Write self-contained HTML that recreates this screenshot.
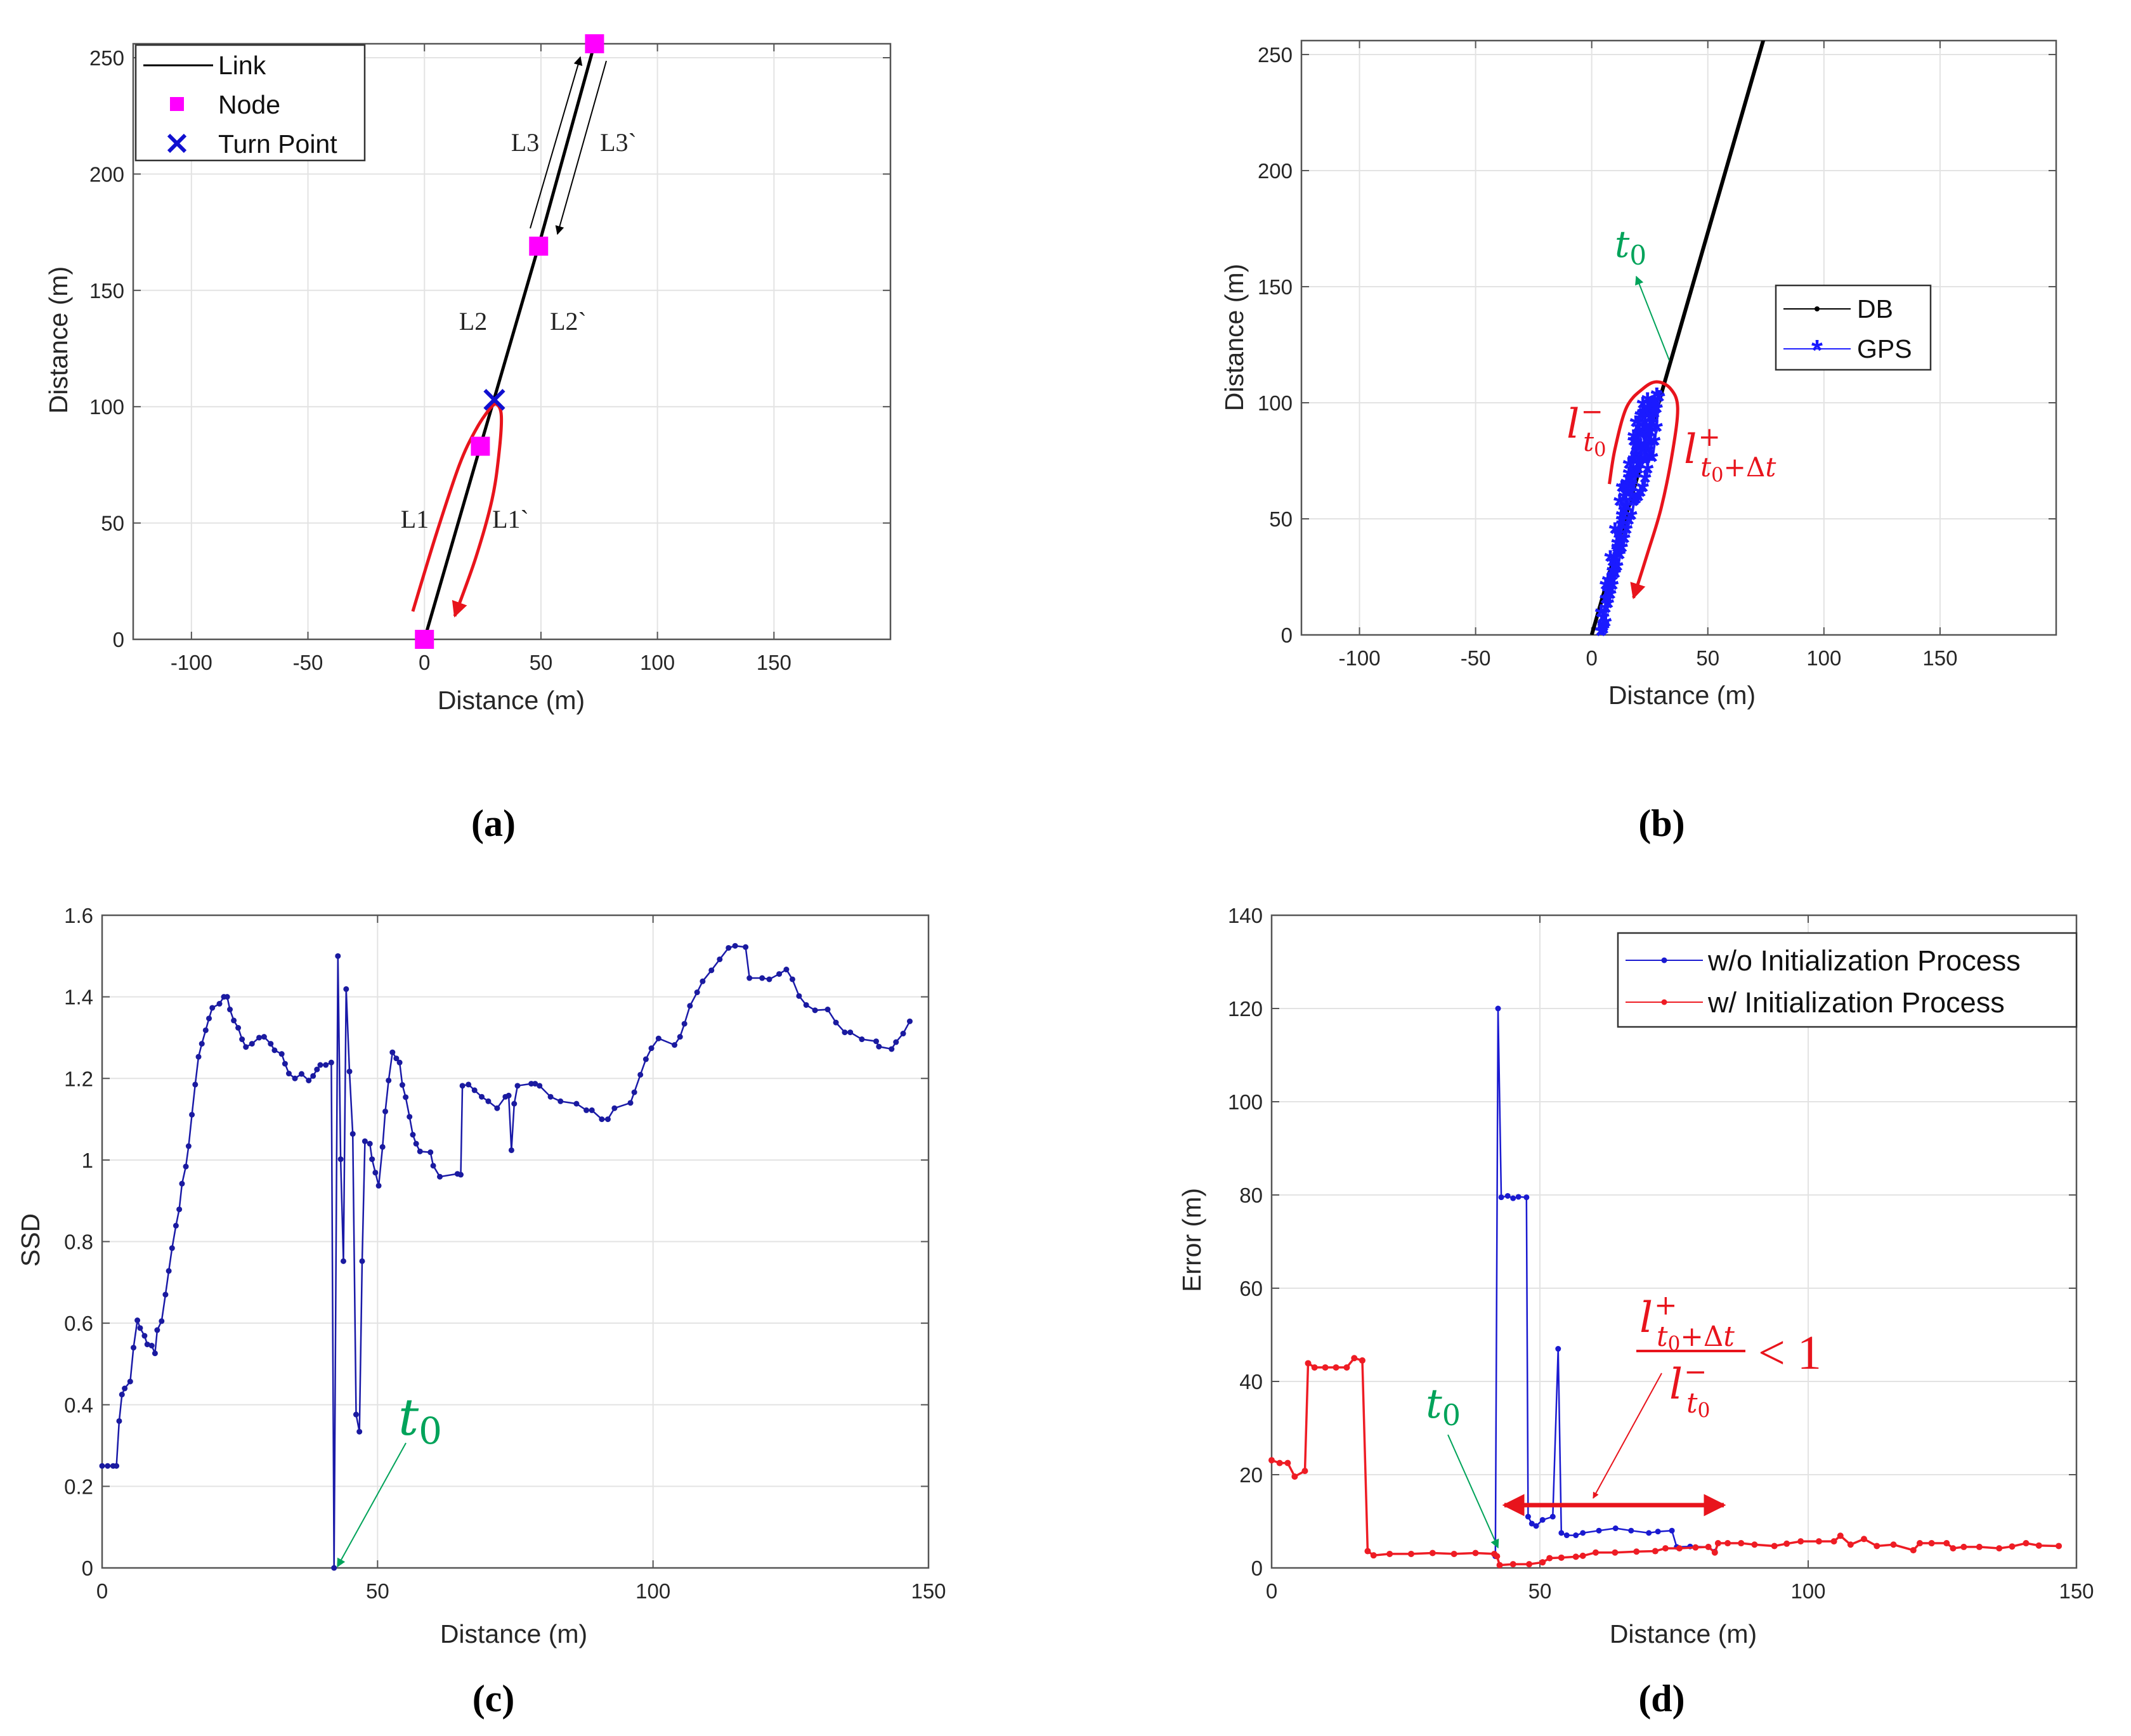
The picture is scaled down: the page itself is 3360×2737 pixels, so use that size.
<!DOCTYPE html>
<html><head><meta charset="utf-8">
<style>
html,body{margin:0;padding:0;background:#fff;}
svg{display:block;font-family:"Liberation Sans",sans-serif;}
.tk{font-size:33px;fill:#262626;}
.al{font-size:41px;fill:#262626;}
.pl{font-family:"Liberation Serif",serif;font-size:60px;font-weight:bold;fill:#000;}
.mi{font-family:"DejaVu Serif",serif;font-style:italic;}
</style></head>
<body>
<svg id="fig" width="3360" height="2737" viewBox="0 0 3360 2737" xmlns="http://www.w3.org/2000/svg">
<defs>
<marker id="ar" viewBox="0 0 10 10" refX="9" refY="5" markerWidth="5" markerHeight="5" orient="auto-start-reverse"><path d="M0,0L10,5L0,10z" fill="#e8141c"/></marker>
<marker id="ag" viewBox="0 0 10 10" refX="9" refY="5" markerWidth="7" markerHeight="7" orient="auto"><path d="M0,0L10,5L0,10z" fill="#00a35a"/></marker>
<marker id="ak" viewBox="0 0 10 10" refX="9" refY="5" markerWidth="7" markerHeight="7" orient="auto"><path d="M0,0L10,5L0,10z" fill="#000"/></marker>
</defs>
</svg>
<script>
// ---------- data ----------
const aNodesX=[0,24,49,73];
const aNodesY=[0,83,169,256];
const aTurnX=[30];
const aTurnY=[103];
const aUx=[-5,5,15,22,28,31,33,32,29,22,13];
const aUy=[12,45,75,90,99,101,96,80,60,35,10];

const bDbX=[0,75];
const bDbY=[0,260];
const bGpsX=[5,6,4,7,8,6,9,10,8,11,12,10,13,14,12,15,13,17,18,16,19,20,18,22,23,21,25,26,24,28,27,25,23,21,19,17,15,13,11,9,7,6,5,14,16,20,24,26,22,18,5,6,7,8,9,10,11,12,13,14,15,16,17,18,19,20,21,22,23,24,25,26,27,28,29,27,26,25,24,23,22,21,20,19,18,17,16,15,14,13,12,11,10,9,8,7,6,5,4,20,22,24,26,28,23,25,27,19,21];
const bGpsY=[1,4,8,12,16,20,24,28,32,36,40,44,48,52,56,60,62,64,68,72,76,80,84,86,90,93,95,98,100,102,96,88,80,74,68,60,54,46,38,30,22,14,6,62,66,70,78,92,98,82,3,10,17,20,26,32,35,42,50,58,64,68,63,74,80,72,85,78,88,84,92,90,99,96,101,82,75,86,70,66,62,60,58,57,56,50,48,44,40,36,33,28,25,20,18,14,10,2,0,88,94,96,92,88,74,82,94,90,80];
const bUx=[7.6,10,15,22,28,34,37,35,30,24,18];
const bUy=[65,80,98,106,109,106,98,80,55,35,16];

const cX=[0,1,2,2.6,3.1,3.6,4.1,5.1,5.7,6.4,6.9,7.7,8.2,9,9.6,10,10.8,11.5,12.1,12.7,13.4,14,14.5,15.2,15.7,16.3,16.9,17.5,18.1,18.8,19.4,20,21.3,22.1,22.7,23.2,23.9,24.7,25.4,26.1,27.2,28.5,29.4,30.6,31.3,32.6,33.2,33.9,35,36.2,37.5,38.3,39,39.6,40.6,41.6,42.1,42.8,43.3,43.8,44.3,44.9,45.5,46.1,46.7,47.2,47.7,48.6,49,49.6,50.2,50.9,51.4,52,52.7,53.4,54,54.5,55.1,55.8,56.4,57,57.7,59.6,60.1,61.3,64.5,65.1,65.4,66.5,67.6,68.9,70.1,71.7,73.2,73.8,74.3,74.8,75.4,77.9,78.6,79.4,81.4,83.2,86.1,87.9,88.9,90.7,91.8,93,95.9,96.6,97.7,98.7,99.7,101,103.9,104.9,105.7,106.7,108,109,110.6,112.1,113.7,114.9,116.8,117.5,119.8,121.1,122.9,124.2,125.3,126.5,127.8,129.4,131.7,133.2,134.8,135.8,137.9,140.5,141,143.3,144.1,145.4,146.6];
const cY=[0.25,0.25,0.25,0.25,0.36,0.425,0.44,0.457,0.54,0.607,0.588,0.569,0.548,0.545,0.526,0.583,0.605,0.67,0.728,0.784,0.839,0.879,0.942,0.984,1.034,1.111,1.185,1.253,1.285,1.318,1.347,1.373,1.383,1.4,1.4,1.369,1.342,1.324,1.296,1.277,1.285,1.3,1.302,1.285,1.269,1.26,1.236,1.212,1.2,1.211,1.195,1.206,1.222,1.233,1.233,1.239,0,1.5,1.002,0.752,1.419,1.217,1.064,0.376,0.334,0.752,1.046,1.04,1.002,0.969,0.937,1.032,1.119,1.195,1.264,1.249,1.239,1.184,1.154,1.106,1.062,1.04,1.021,1.019,0.986,0.959,0.966,0.964,1.182,1.185,1.171,1.155,1.144,1.127,1.155,1.158,1.024,1.138,1.182,1.187,1.187,1.182,1.155,1.144,1.138,1.122,1.122,1.1,1.1,1.127,1.14,1.166,1.209,1.247,1.274,1.298,1.282,1.302,1.334,1.378,1.411,1.438,1.465,1.492,1.52,1.525,1.522,1.446,1.446,1.443,1.456,1.467,1.443,1.402,1.38,1.367,1.369,1.337,1.313,1.313,1.296,1.291,1.278,1.272,1.289,1.31,1.34];

const dRedX=[0,1.5,3,4.3,6.2,6.8,8,10,12,14,15.4,16.9,17.9,19,22,26,30,34,38,41.5,42,42.5,45,48,50.5,51.8,54,56.7,58,60.4,64,68,71.5,73.4,76,79,81.4,82.6,83.2,85,87.5,90,93.7,96,98.6,102,104.8,106,107.9,110.4,112.8,115.9,119.6,120.8,123,125.8,127,129,131.9,135.6,138,140.6,143,146.7];
const dRedY=[23.1,22.5,22.5,19.6,20.8,43.9,43,43,43,43,45,44.5,3.6,2.7,3,3,3.2,3,3.2,3,2.5,0.6,0.8,0.8,1.2,2.1,2.2,2.4,2.6,3.3,3.3,3.5,3.6,4.2,4.2,4.4,4.5,3.3,5.3,5.3,5.3,5,4.7,5.2,5.7,5.7,5.7,6.9,5,6.2,4.7,5,3.8,5.3,5.3,5.3,4.2,4.5,4.5,4.2,4.6,5.3,4.8,4.7];
const dBlueX=[41.7,42.2,42.8,44,45,46,47.5,47.8,48.5,49.3,50.5,52.4,53.4,54,55,56.7,58,61,64.1,67,70.3,72,74.6,75.5,78,81.4,82.6];
const dBlueY=[2.5,120,79.5,79.8,79.3,79.6,79.5,11,9.5,9,10.3,11,47,7.5,7,7,7.5,8,8.5,8,7.5,7.8,8,4.5,4.6,4.5,3.5];

const aTicksX=[-100,-50,0,50,100,150];
const aTicksY=[0,50,100,150,200,250];
const cTicksX=[0,50,100,150];
const cTicksY=[0,0.2,0.4,0.6,0.8,1,1.2,1.4,1.6];
const cTickLbl=['0','0.2','0.4','0.6','0.8','1','1.2','1.4','1.6'];
const dTicksX=[0,50,100,150];
const dTicksY=[0,20,40,60,80,100,120,140];

// ---------- helpers ----------
const NS='http://www.w3.org/2000/svg';
const svg=document.getElementById('fig');
function el(tag,attrs,parent,text){const e=document.createElementNS(NS,tag);for(const k in attrs)e.setAttribute(k,attrs[k]);if(text!==undefined)e.textContent=text;(parent||svg).appendChild(e);return e;}
function axes(L,R,T,B,x0,x1,y0,y1){return{L,R,T,B,sx:v=>L+(v-x0)/(x1-x0)*(R-L),sy:v=>B-(v-y0)/(y1-y0)*(B-T)};}
function frame(ax,g,tx,ty,tyl,gridX,gridY){
  if(gridX) tx.forEach(v=>{const l=el('line',{x1:ax.sx(v),x2:ax.sx(v),y1:ax.T,y2:ax.B,stroke:'#e3e3e3','stroke-width':2},g);
    
    });
  if(gridY) ty.forEach(v=>{const l=el('line',{x1:ax.L,x2:ax.R,y1:ax.sy(v),y2:ax.sy(v),stroke:'#e3e3e3','stroke-width':2},g);
    
    });
  const r=el('rect',{x:ax.L,y:ax.T,width:ax.R-ax.L,height:ax.B-ax.T,fill:'none',stroke:'#555','stroke-width':2.5},g);
  
  
  tx.forEach(v=>{
    el('line',{x1:ax.sx(v),x2:ax.sx(v),y1:ax.B,y2:ax.B-12,stroke:'#555','stroke-width':2},g);
    el('line',{x1:ax.sx(v),x2:ax.sx(v),y1:ax.T,y2:ax.T+12,stroke:'#555','stroke-width':2},g);
    const t=el('text',{x:ax.sx(v),y:ax.B+48,'text-anchor':'middle',class:'tk'},g,String(v));
    
    
  });
  ty.forEach((v,i)=>{
    el('line',{x1:ax.L,x2:ax.L+12,y1:ax.sy(v),y2:ax.sy(v),stroke:'#555','stroke-width':2},g);
    el('line',{x1:ax.R,x2:ax.R-12,y1:ax.sy(v),y2:ax.sy(v),stroke:'#555','stroke-width':2},g);
    const t=el('text',{x:ax.L-14,y:ax.sy(v)+12,'text-anchor':'end',class:'tk'},g,tyl?tyl[i]:String(v));
    
    
  });
}
function pathOf(ax,xs,ys){return xs.map((x,i)=>(i?'L':'M')+ax.sx(x).toFixed(1)+','+ax.sy(ys[i]).toFixed(1)).join('');}
function smoothPath(ax,xs,ys){const p=xs.map((x,i)=>[ax.sx(x),ax.sy(ys[i])]);let d='M'+p[0][0]+','+p[0][1];
  for(let i=0;i<p.length-1;i++){const p0=p[i-1]||p[i],p1=p[i],p2=p[i+1],p3=p[i+2]||p2;
    d+='C'+(p1[0]+(p2[0]-p0[0])/6)+','+(p1[1]+(p2[1]-p0[1])/6)+' '+(p2[0]-(p3[0]-p1[0])/6)+','+(p2[1]-(p3[1]-p1[1])/6)+' '+p2[0]+','+p2[1];}
  return d;}
function label(x,y,txt,cls,name,rot){const t=el('text',{x,y,'text-anchor':'middle',class:cls},svg,txt);
  if(rot)t.setAttribute('transform','rotate(-90 '+x+' '+y+')');
  
  return t;}
function mathL(g,x,y,size,sign,sub,name){
  const t=el('text',{x,y,class:'mi','font-size':size,fill:'#e8141c'},g);
  
  
  const s=size*0.66;
  t.innerHTML='l<tspan font-style="normal" font-size="'+s+'" dx="2" dy="'+(-size*0.42)+'">'+sign+'</tspan>'+
    '<tspan font-size="'+s+'" dx="'+(-s*0.75)+'" dy="'+(size*0.75)+'">t</tspan><tspan font-size="'+(s*0.72)+'" font-style="normal" dy="'+(size*0.12)+'">0</tspan>'+
    (sub?'<tspan font-size="'+s+'" font-style="normal" dy="'+(-size*0.12)+'">+Δ</tspan><tspan font-size="'+s+'">t</tspan>':'');
  return t;}

// ---------- panel a ----------
const gA=el('g',{});


const axA=axes(210,1404,69,1008,-125,200,0,256);
frame(axA,gA,aTicksX,aTicksY,null,true,true);
const linkA=el('path',{d:pathOf(axA,aNodesX,aNodesY),fill:'none',stroke:'#000','stroke-width':5},gA);


const uA=el('path',{d:smoothPath(axA,aUx,aUy),fill:'none',stroke:'#e8141c','stroke-width':5,'marker-end':'url(#ar)'},gA);


aNodesX.forEach((x,i)=>{const r=el('rect',{x:axA.sx(x)-15,y:axA.sy(aNodesY[i])-15,width:30,height:30,fill:'#ff00ff'},gA);
  
  });
aTurnX.forEach((x,i)=>{const cx=axA.sx(x),cy=axA.sy(aTurnY[i]);
  const p=el('path',{d:`M${cx-15},${cy-15}L${cx+15},${cy+15}M${cx+15},${cy-15}L${cx-15},${cy+15}`,stroke:'#1010d0','stroke-width':6},gA);
  
  });
const a1=el('line',{x1:836,y1:360,x2:915,y2:90,stroke:'#000','stroke-width':2,'marker-end':'url(#ak)'},gA);


const a2=el('line',{x1:956,y1:96,x2:879,y2:369,stroke:'#000','stroke-width':2,'marker-end':'url(#ak)'},gA);


[['L1',654,832],['L1`',805,832],['L2',746,520],['L2`',896,520],['L3',828,238],['L3`',975,238]].forEach(d=>{
  const t=el('text',{x:d[1],y:d[2],'text-anchor':'middle','font-family':'Liberation Serif, serif','font-size':40,fill:'#222'},gA,d[0]);
  
  });
const lgA=el('g',{},gA);


el('rect',{x:214,y:71,width:361,height:182,fill:'#fff',stroke:'#333','stroke-width':2.5},lgA);
el('line',{x1:226,x2:336,y1:103,y2:103,stroke:'#000','stroke-width':3},lgA);
el('rect',{x:268,y:153,width:22,height:22,fill:'#ff00ff'},lgA);
el('path',{d:'M266,213L292,239M292,213L266,239',stroke:'#1010d0','stroke-width':6},lgA);
[['Link',103],['Node',165],['Turn Point',227]].forEach(d=>{const t=el('text',{x:344,y:d[1]+14,'font-size':41,fill:'#111'},lgA,d[0]);
  
  });
label(806,1118,'Distance (m)','al','x-axis-title-a');
label(106,536,'Distance (m)','al','y-axis-title-a',true);
label(778,1318,'(a)','pl','panel-label-a');

// ---------- panel b ----------
const gB=el('g',{});


const axB=axes(2052,3242,64,1001,-125,200,0,256);
frame(axB,gB,aTicksX,aTicksY,null,true,true);
const clipB=el('clipPath',{id:'cb'},gB);el('rect',{x:2052,y:64,width:1190,height:937},clipB);
const dbB=el('path',{d:pathOf(axB,bDbX,bDbY),stroke:'#000','stroke-width':6,'clip-path':'url(#cb)'},gB);


const gpsLine=el('path',{d:pathOf(axB,bGpsX,bGpsY),fill:'none',stroke:'#2020ff','stroke-width':4},gB);


bGpsX.forEach((x,i)=>{const t=el('text',{x:axB.sx(x),y:axB.sy(bGpsY[i])+18,'text-anchor':'middle','font-size':50,'font-weight':'bold',fill:'#1a1aff'},gB,'*');
  
  });
const uB=el('path',{d:smoothPath(axB,bUx,bUy),fill:'none',stroke:'#e8141c','stroke-width':5,'marker-end':'url(#ar)'},gB);


const gArB=el('line',{x1:2632,y1:568,x2:2580,y2:436,stroke:'#00a35a','stroke-width':2,'marker-end':'url(#ag)'},gB);


const t0b=el('text',{x:2546,y:405,class:'mi','font-size':58,fill:'#00a35a'},gB);


t0b.innerHTML='t<tspan font-style="normal" font-size="42" dy="12">0</tspan>';
mathL(gB,2470,690,64,'−',false,'l-minus-label');
mathL(gB,2655,730,64,'+',true,'l-plus-label');
const lgB=el('g',{},gB);


el('rect',{x:2800,y:450,width:244,height:133,fill:'#fff',stroke:'#333','stroke-width':2.5},lgB);
el('line',{x1:2812,x2:2918,y1:487,y2:487,stroke:'#000','stroke-width':2},lgB);
el('circle',{cx:2865,cy:487,r:4,fill:'#000'},lgB);
el('line',{x1:2812,x2:2918,y1:550,y2:550,stroke:'#2020ff','stroke-width':2},lgB);
el('text',{x:2865,y:568,'text-anchor':'middle','font-size':46,'font-weight':'bold',fill:'#1a1aff'},lgB,'*');
[['DB',487],['GPS',550]].forEach(d=>{const t=el('text',{x:2928,y:d[1]+14,'font-size':41,fill:'#111'},lgB,d[0]);
  
  });
label(2652,1110,'Distance (m)','al','x-axis-title-b');
label(1960,532,'Distance (m)','al','y-axis-title-b',true);
label(2620,1318,'(b)','pl','panel-label-b');

// ---------- panel c ----------
const gC=el('g',{});


const axC=axes(161,1464,1443,2472,0,150,0,1.6);
frame(axC,gC,cTicksX,cTicksY,cTickLbl,true,true);
const lineC=el('path',{d:pathOf(axC,cX,cY),fill:'none',stroke:'#1a1aa8','stroke-width':2.5},gC);


cX.forEach((x,i)=>{const c=el('circle',{cx:axC.sx(x),cy:axC.sy(cY[i]),r:4.5,fill:'#1a1aa0'},gC);
  
  });
const gArC=el('line',{x1:640,y1:2275,x2:532,y2:2470,stroke:'#00a35a','stroke-width':2,'marker-end':'url(#ag)'},gC);


const t0c=el('text',{x:628,y:2262,class:'mi','font-size':80,fill:'#00a35a'},gC);


t0c.innerHTML='t<tspan font-style="normal" font-size="58" dy="14">0</tspan>';
label(810,2590,'Distance (m)','al','x-axis-title-c');
label(62,1955,'SSD','al','y-axis-title-c',true);
label(778,2698,'(c)','pl','panel-label-c');

// ---------- panel d ----------
const gD=el('g',{});


const axD=axes(2005,3274,1443,2472,0,150,0,140);
frame(axD,gD,dTicksX,dTicksY,null,true,true);
const blueD=el('path',{d:pathOf(axD,dBlueX,dBlueY),fill:'none',stroke:'#1a1ad0','stroke-width':2.5},gD);


dBlueX.forEach((x,i)=>{const c=el('circle',{cx:axD.sx(x),cy:axD.sy(dBlueY[i]),r:4.5,fill:'#1a1ad0'},gD);
  
  });
const redD=el('path',{d:pathOf(axD,dRedX,dRedY),fill:'none',stroke:'#ee1c24','stroke-width':3.5},gD);


dRedX.forEach((x,i)=>{const c=el('circle',{cx:axD.sx(x),cy:axD.sy(dRedY[i]),r:5,fill:'#ee1c24'},gD);
  
  });
const dbl=el('line',{x1:2372,y1:2373,x2:2718,y2:2373,stroke:'#e8141c','stroke-width':7,'marker-start':'url(#ar)','marker-end':'url(#ar)'},gD);


const rArD=el('line',{x1:2620,y1:2165,x2:2512,y2:2362,stroke:'#e8141c','stroke-width':2,'marker-end':'url(#ar)'},gD);


const gArD=el('line',{x1:2283,y1:2262,x2:2362,y2:2440,stroke:'#00a35a','stroke-width':2,'marker-end':'url(#ag)'},gD);


const t0d=el('text',{x:2248,y:2235,class:'mi','font-size':64,fill:'#00a35a'},gD);


t0d.innerHTML='t<tspan font-style="normal" font-size="46" dy="12">0</tspan>';
mathL(gD,2585,2100,66,'+',true,'ratio-numerator');
const bar=el('line',{x1:2580,x2:2752,y1:2130,y2:2130,stroke:'#e8141c','stroke-width':4},gD);


const lt=el('text',{x:2772,y:2158,'font-family':'Liberation Serif, serif','font-size':76,fill:'#e8141c'},gD,'< 1');


mathL(gD,2632,2205,66,'−',false,'ratio-denominator');
const lgD=el('g',{},gD);


el('rect',{x:2551,y:1471,width:723,height:148,fill:'#fff',stroke:'#333','stroke-width':2.5},lgD);
el('line',{x1:2563,x2:2685,y1:1514,y2:1514,stroke:'#1a1ad0','stroke-width':2},lgD);
el('circle',{cx:2624,cy:1514,r:4.5,fill:'#1a1ad0'},lgD);
el('line',{x1:2563,x2:2685,y1:1580,y2:1580,stroke:'#ee1c24','stroke-width':2},lgD);
el('circle',{cx:2624,cy:1580,r:4.5,fill:'#ee1c24'},lgD);
[['w/o Initialization Process',1514],['w/ Initialization Process',1580]].forEach(d=>{const t=el('text',{x:2693,y:d[1]+16,'font-size':45,fill:'#111'},lgD,d[0]);
  
  });
label(2654,2590,'Distance (m)','al','x-axis-title-d');
label(1893,1955,'Error (m)','al','y-axis-title-d',true);
label(2620,2698,'(d)','pl','panel-label-d');
</script>
</body></html>
